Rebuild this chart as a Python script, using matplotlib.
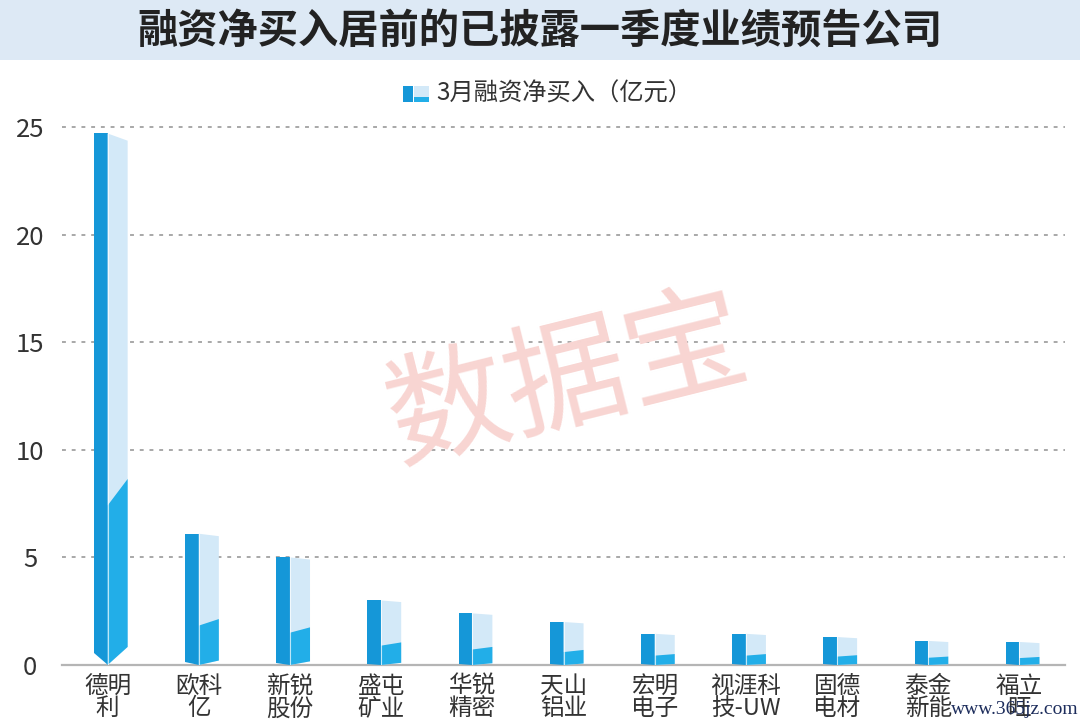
import matplotlib
matplotlib.use("Agg")
import matplotlib.pyplot as plt
from matplotlib.patches import Rectangle

plt.rcParams["font.family"] = ["Noto Sans CJK SC", "DejaVu Sans"]

# data
companies = ["德明\n利", "欧科\n亿", "新锐\n股份", "盛屯\n矿业", "华锐\n精密", "天山\n铝业",
             "宏明\n电子", "视涯科\n技-UW", "固德\n电材", "泰金\n新能", "福立\n旺"]
net_buy = [24.7, 6.1, 5.0, 3.0, 2.4, 2.0, 1.45, 1.45, 1.3, 1.12, 1.07]
yticks = [0, 5, 10, 15, 20, 25]

DARK = "#1597d8"
LIGHT = "#d3e9f8"
MID = "#22aee8"
W, H = 1080, 725

fig = plt.figure(figsize=(10.8, 7.25), dpi=100)
fig.patch.set_facecolor("white")

# title band
fig.patches.append(Rectangle((0, 1 - 60 / H), 1, 60 / H, transform=fig.transFigure,
                             facecolor="#dde9f5", edgecolor="none", zorder=0))
fig.text(0.5, 1 - 31 / H, "融资净买入居前的已披露一季度业绩预告公司", ha="center", va="center",
         fontsize=29, fontweight="bold", color="#222222")

# legend (hand drawn icon + text)
fig.patches.append(Rectangle((403 / W, 1 - 102 / H), 10 / W, 16 / H, transform=fig.transFigure,
                             facecolor=DARK, edgecolor="none"))
fig.patches.append(Rectangle((414 / W, 1 - 102 / H), 15 / W, 16 / H, transform=fig.transFigure,
                             facecolor=LIGHT, edgecolor="none"))
fig.patches.append(Rectangle((414 / W, 1 - 102 / H), 15 / W, 5 / H, transform=fig.transFigure,
                             facecolor=MID, edgecolor="none"))
fig.text(436 / W, 1 - 94 / H, "3月融资净买入（亿元）", ha="left", va="center",
         fontsize=17.5, color="#333333")

ymax = 26
ax = fig.add_axes([62 / W, (H - 665) / H, (1065 - 62) / W, ymax * 21.52 / H])
ax.set_xlim(-0.5, len(net_buy) - 0.5)
ax.set_ylim(0, ymax)

wl, wr = 0.15, 0.22
for i, v in enumerate(net_buy):
    c = i
    bl, br = 0.022 * v, 0.034 * v
    drop = 0.012 * v + 0.04
    # front (dark) face
    ax.fill([c - wl, c - wl, c, c], [bl, v, v, 0], color=DARK, lw=0, zorder=3, clip_on=False)
    # side (light) face
    ax.fill([c, c, c + wr, c + wr], [0, v, v - drop, br], color=LIGHT, lw=0, zorder=3, clip_on=False)
    # lower part of side face
    ax.fill([c, c, c + wr, c + wr], [0, 0.30 * v, 0.35 * v, br], color=MID, lw=0, zorder=4,
            clip_on=False)
    ax.plot([c, c], [0, v], color="white", lw=0.8, alpha=0.7, zorder=5)

for s in ["left", "right", "top"]:
    ax.spines[s].set_visible(False)
ax.spines["bottom"].set_color("#b5b5b5")
ax.spines["bottom"].set_linewidth(1.6)
ax.spines["bottom"].set_zorder(2)

ax.set_yticks(yticks)
ax.set_yticklabels([str(t) for t in yticks], fontsize=18.5, color="#333333", fontweight="light")
for lab in ax.get_yticklabels():
    lab.set_horizontalalignment("center")
ax.tick_params(axis="y", length=0, pad=23)
ax.yaxis.grid(True, color="#a8a8a8", linestyle=(0, (2, 3)), linewidth=1.4)
ax.set_axisbelow(True)

ax.set_xticks(range(len(companies)))
ax.set_xticklabels(companies, fontsize=17, color="#333333", linespacing=0.98)
ax.tick_params(axis="x", length=0, pad=7)

# watermarks
fig.text(0.525, 1 - 383 / H, "数据宝", ha="center", va="center", rotation=14,
         fontsize=88, color="#f8d5d2", fontweight="light", zorder=0.2)
fig.text(1015 / W, 1 - 710 / H, "www.365jz.com", ha="center", va="center",
         fontsize=14, color="#1d2d5c", family=["Liberation Serif", "DejaVu Serif"], zorder=10)

fig.savefig("out.png", dpi=100)
